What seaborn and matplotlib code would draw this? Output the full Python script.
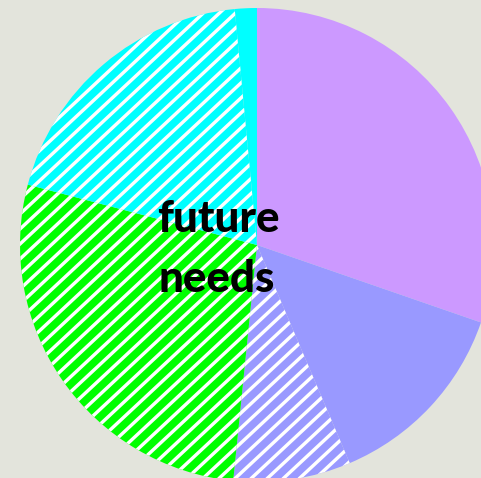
import matplotlib
matplotlib.use("Agg")
import matplotlib.pyplot as plt
from matplotlib.collections import LineCollection
import numpy as np
import seaborn as sns

# Slice shares, clockwise from 12 o'clock
segments = ["current A", "current B", "future B", "future C", "future D", "current D"]
shares = [30.3, 13.3, 8.0, 27.5, 19.4, 1.5]
slice_colors = ["#CC99FF", "#9999FF", "#9999FF", "#00FF00", "#00FFFF", "#00FFFF"]
hatched = [False, False, True, True, True, False]
caption_lines = ["future", "needs"]

sns.set_theme(style="white")
plt.rcParams["font.family"] = ["Lato", "DejaVu Sans"]

DPI = 72
W, H = 481, 478
fig = plt.figure(figsize=(W / DPI, H / DPI), dpi=DPI)
bg = "#E3E4DC"
fig.patch.set_facecolor(bg)
ax = fig.add_axes([0, 0, 1, 1])
ax.set_facecolor(bg)

wedges, _ = ax.pie(shares, colors=slice_colors, startangle=90, counterclock=False,
                   radius=1.0, wedgeprops=dict(linewidth=0, edgecolor="none"))

# Pie is larger than the canvas: it bleeds off the right and bottom edges
r_px = 237.0
cx, cy = 257.0, 245.0
ax.set_xlim(-cx / r_px, (W - cx) / r_px)
ax.set_ylim((cy - H) / r_px, cy / r_px)
ax.set_aspect("equal")
ax.axis("off")

# White diagonal stripes over the "future" slices, clipped to each wedge
slope = np.tan(np.radians(43))
step = 15.0 / r_px
offsets = np.arange(-4.0, 4.0, step)
stripe_segs = [[(-2.0, -2.0 * slope + c), (2.0, 2.0 * slope + c)] for c in offsets]
for w, h in zip(wedges, hatched):
    if not h:
        continue
    lc = LineCollection(stripe_segs, colors="white", linewidths=3.4,
                        capstyle="butt", zorder=w.get_zorder() + 0.1)
    ax.add_collection(lc)
    lc.set_clip_path(w)

ax.text((218 - cx) / r_px, (cy - 232) / r_px, caption_lines[0], ha="center",
        va="baseline", fontsize=44, fontweight="black", color="black", zorder=10)
ax.text((217 - cx) / r_px, (cy - 292) / r_px, caption_lines[1], ha="center",
        va="baseline", fontsize=44, fontweight="black", color="black", zorder=10)

fig.savefig("out.png", dpi=DPI, facecolor=bg)
